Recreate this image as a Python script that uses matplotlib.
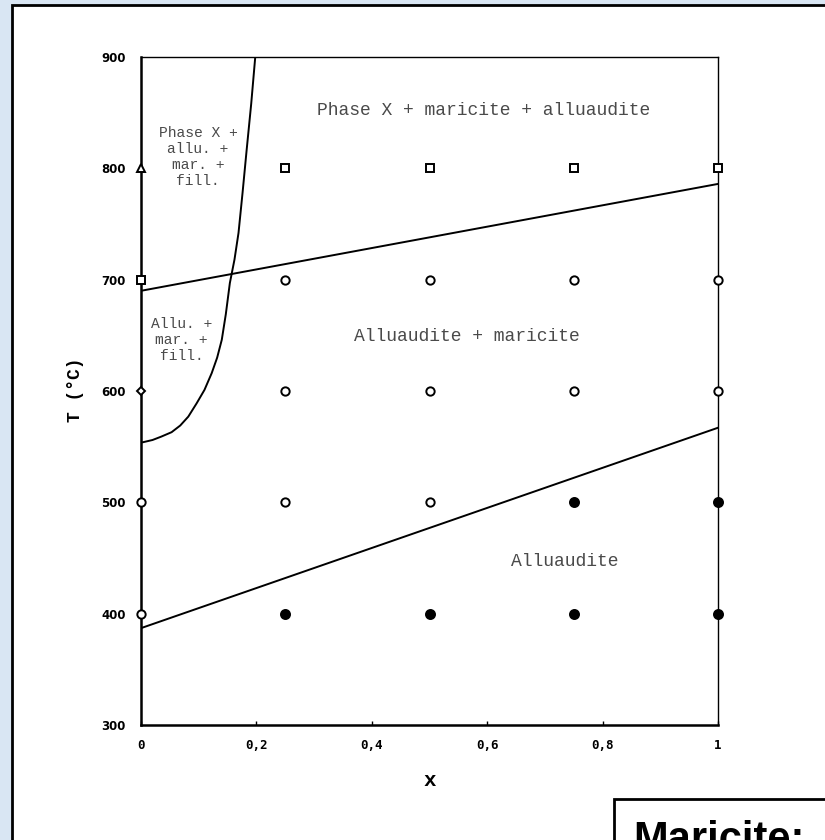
import matplotlib

matplotlib.use("Agg")
import matplotlib.pyplot as plt
from matplotlib.patches import Rectangle

# Sample points (x, T in degC) grouped by marker style
tri_x, tri_T = [0.0], [800]
sq_x = [0.0, 0.25, 0.5, 0.75, 1.0]
sq_T = [700, 800, 800, 800, 800]
dia_x, dia_T = [0.0], [600]
open_x = [0.0, 0.0, 0.25, 0.25, 0.25, 0.5, 0.5, 0.5, 0.75, 0.75, 1.0, 1.0]
open_T = [500, 400, 700, 600, 500, 700, 600, 500, 700, 600, 700, 600]
fill_x = [0.25, 0.5, 0.75, 0.75, 1.0, 1.0]
fill_T = [400, 400, 500, 400, 500, 400]

# Phase boundaries
upper_x, upper_T = [0.0, 1.0], [690, 786]
lower_x, lower_T = [0.0, 1.0], [387, 567]
curve_x = [0.0035, 0.02, 0.035, 0.053, 0.068, 0.082, 0.0965, 0.11, 0.1225, 0.132, 0.14,
           0.147, 0.154, 0.162, 0.169, 0.176, 0.183, 0.191, 0.198]
curve_T = [554, 556, 559, 563, 569, 577, 589, 601, 616, 630, 646,
           669, 697, 718, 742, 778, 816, 858, 900]

xticks = [0, 0.2, 0.4, 0.6, 0.8, 1]
xtick_labels = ["0", "0,2", "0,4", "0,6", "0,8", "1"]
yticks = [300, 400, 500, 600, 700, 800, 900]

W, H = 825, 840
fig = plt.figure(figsize=(W / 100, H / 100), dpi=100, facecolor="#d9e6f3")

# white panel and the cut-off "Maricite" box
fig.patches.append(Rectangle((12 / W, -0.2), 1.5, (H - 5) / H + 0.2, transform=fig.transFigure,
                             facecolor="white", edgecolor="black", lw=2.0, zorder=-2))
fig.patches.append(Rectangle((614 / W, -0.2), 1.0, (H - 799) / H + 0.2, transform=fig.transFigure,
                             facecolor="white", edgecolor="black", lw=2.0, zorder=-1))
fig.text(633 / W, (H - 851) / H, "Maricite:", family="Liberation Sans", weight="bold",
         fontsize=30, ha="left", va="baseline")

ax = fig.add_axes([141 / W, (H - 725) / H, 577 / W, 668 / H])
ax.set_facecolor("none")
ax.set_xlim(0, 1); ax.set_ylim(300, 900)

ax.plot(upper_x, upper_T, color="black", lw=1.4)
ax.plot(lower_x, lower_T, color="black", lw=1.4)
ax.plot(curve_x, curve_T, color="black", lw=1.4)

mk = dict(linestyle="none", clip_on=False, zorder=5, markeredgecolor="black", mew=1.4)
ax.plot(tri_x, tri_T, marker="^", markersize=6, markerfacecolor="white", **mk)
ax.plot(sq_x, sq_T, marker="s", markersize=5.5, markerfacecolor="white", **mk)
ax.plot(dia_x, dia_T, marker="D", markersize=4.5, markerfacecolor="white", **mk)
ax.plot(open_x, open_T, marker="o", markersize=6, markerfacecolor="white", **mk)
ax.plot(fill_x, fill_T, marker="o", markersize=6.5, markerfacecolor="black", **mk)

txt = dict(family="Liberation Mono", color="#4a4a4a", ha="center", va="center")
ax.text(0.593, 852, "Phase X + maricite + alluaudite", fontsize=13, **txt)
ax.text(0.565, 649, "Alluaudite + maricite", fontsize=13, **txt)
ax.text(0.735, 447, "Alluaudite", fontsize=13, **txt)
ax.text(0.099, 810, "Phase X +\nallu. +\nmar. +\nfill.", fontsize=10.5, **txt)
ax.text(0.07, 646, "Allu. +\nmar. +\nfill.", fontsize=10.5, **txt)

ax.set_xticks(xticks)
ax.set_xticklabels(xtick_labels, family="DejaVu Sans Mono", weight="bold", fontsize=9)
ax.set_yticks(yticks)
ax.set_yticklabels([str(v) for v in yticks], family="DejaVu Sans", weight="bold", fontsize=8.5)
ax.tick_params(direction="in", length=3, width=1, pad=10)
ax.tick_params(axis="y", length=0, pad=11)

for side in ("left", "bottom"):
    ax.spines[side].set_linewidth(1.8)
for side in ("top", "right"):
    ax.spines[side].set_linewidth(1.0)

fig.text(430 / W, (H - 780) / H, "x", family="Liberation Mono", weight="bold",
         fontsize=15, ha="center", va="center")
fig.text(75 / W, (H - 390) / H, "T (°C)", family="Liberation Mono", weight="bold",
         fontsize=13, ha="center", va="center", rotation=90)

fig.savefig("out.png", dpi=100, facecolor=fig.get_facecolor())
